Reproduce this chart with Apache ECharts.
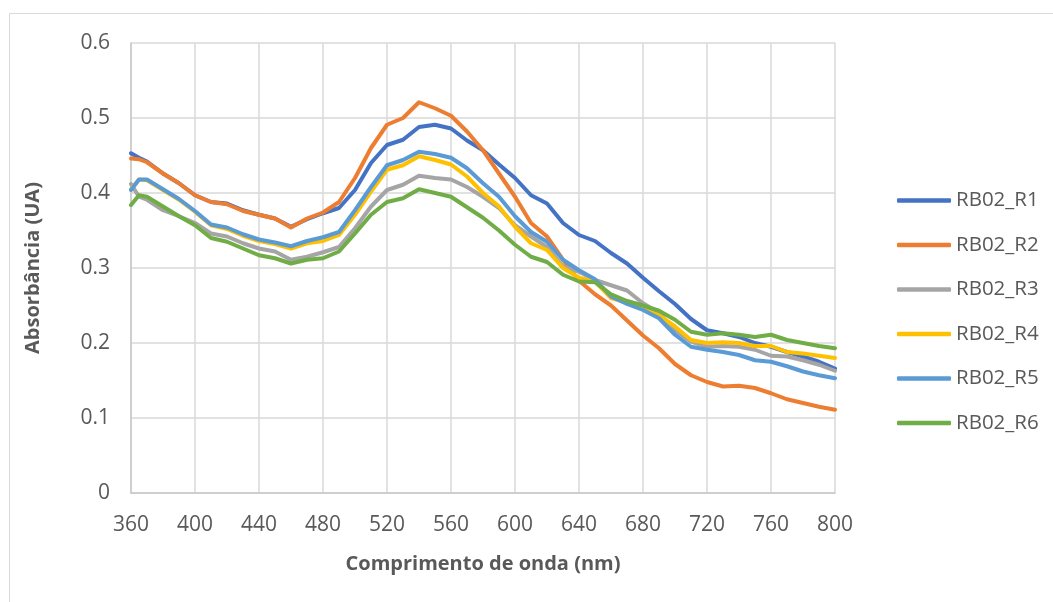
<!DOCTYPE html>
<html>
<head>
<meta charset="utf-8">
<script src="https://cdn.jsdelivr.net/npm/echarts@6/dist/echarts.min.js"></script>
<style>
html,body{margin:0;padding:0;background:#fff;}
#chart{width:1053px;height:602px;}
</style>
</head>
<body>
<div id="chart"></div>
<script>
var wavelengths = [360,365,370,380,390,400,410,420,430,440,450,460,470,480,490,500,510,520,530,540,550,560,570,580,590,600,610,620,630,640,650,660,670,680,690,700,710,720,730,740,750,760,770,780,790,800];
var seriesNames = ['RB02_R1','RB02_R2','RB02_R3','RB02_R4','RB02_R5','RB02_R6'];
var r1 = [.453,.447,.442,.426,.413,.397,.388,.386,.377,.371,.366,.355,.365,.373,.380,.404,.440,.464,.471,.488,.491,.486,.470,.457,.438,.420,.397,.386,.360,.344,.336,.320,.306,.287,.269,.252,.232,.217,.213,.208,.200,.195,.188,.182,.175,.166];
var r2 = [.446,.445,.441,.426,.413,.397,.388,.385,.376,.371,.366,.354,.366,.374,.388,.420,.460,.491,.500,.521,.513,.503,.482,.457,.426,.395,.360,.342,.311,.283,.265,.250,.230,.210,.193,.172,.157,.148,.142,.143,.140,.133,.125,.120,.115,.111];
var r3 = [.412,.395,.391,.377,.369,.360,.346,.342,.333,.326,.322,.311,.315,.321,.328,.353,.382,.404,.411,.423,.420,.418,.408,.395,.380,.357,.342,.328,.302,.295,.284,.277,.270,.253,.240,.217,.202,.195,.196,.195,.191,.183,.182,.177,.171,.163];
var r4 = [.405,.418,.417,.404,.391,.375,.357,.352,.343,.336,.332,.326,.333,.336,.344,.371,.402,.431,.437,.449,.444,.438,.422,.400,.382,.355,.333,.324,.300,.287,.282,.260,.254,.246,.237,.222,.204,.200,.201,.200,.196,.196,.188,.186,.183,.180];
var r5 = [.404,.418,.418,.405,.392,.376,.358,.354,.345,.338,.334,.329,.336,.341,.348,.377,.408,.437,.444,.455,.452,.447,.433,.413,.395,.369,.348,.335,.311,.297,.285,.262,.252,.244,.233,.211,.195,.191,.188,.184,.177,.175,.169,.162,.157,.153];
var r6 = [.384,.397,.395,.382,.369,.357,.340,.335,.326,.317,.313,.306,.311,.313,.322,.346,.371,.388,.393,.405,.400,.395,.381,.367,.350,.331,.315,.308,.291,.282,.281,.265,.256,.250,.243,.231,.215,.211,.213,.211,.208,.211,.204,.200,.196,.193];
var colors = ['#4472C4','#ED7D31','#A5A5A5','#FFC000','#5B9BD5','#70AD47'];
var allValues = [r1,r2,r3,r4,r5,r6];

var FONT = '"Open Sans", "Noto Sans", sans-serif';
var chart = echarts.init(document.getElementById('chart'), null, {renderer:'canvas'});
var series = allValues.map(function(vals, i){
  return {
    name: seriesNames[i],
    type: 'line',
    symbol: 'none',
    showSymbol: false,
    smooth: false,
    data: wavelengths.map(function(w, j){ return [w, vals[j]]; }),
    lineStyle: {color: colors[i], width: 4, cap: 'round', join: 'round'},
    itemStyle: {color: colors[i]}
  };
});
chart.setOption({
  animation: false,
  backgroundColor: '#fff',
  color: colors,
  graphic: [{
    type: 'rect', silent: true,
    shape: {x: 9.5, y: 13.5, width: 1100, height: 700},
    style: {fill: 'none', stroke: '#D9D9D9', lineWidth: 1}
  }],
  grid: {left: 131, right: 218, top: 43, bottom: 109, containLabel: false},
  legend: {
    orient: 'vertical',
    left: 892,
    top: 185,
    icon: 'roundRect',
    itemWidth: 54,
    itemHeight: 4.5,
    itemGap: 23.5,
    textStyle: {fontFamily: FONT, fontSize: 20.5, color: '#595959'},
    data: seriesNames
  },
  xAxis: {
    type: 'value',
    min: 360, max: 800, interval: 40,
    name: 'Comprimento de onda (nm)',
    nameLocation: 'middle',
    nameGap: 61,
    nameTextStyle: {fontFamily: FONT, fontSize: 20, fontWeight: 'bold', color: '#595959'},
    axisLine: {show: true, lineStyle: {color: '#C8C8C8', width: 1.5}},
    axisTick: {show: false},
    axisLabel: {fontFamily: FONT, fontSize: 21, color: '#595959', margin: 22},
    splitLine: {show: true, lineStyle: {color: '#D9D9D9', width: 1.5}}
  },
  yAxis: {
    type: 'value',
    min: 0, max: 0.6, interval: 0.1,
    name: 'Absorbância (UA)',
    nameLocation: 'middle',
    nameGap: 88,
    nameRotate: 90,
    nameTextStyle: {fontFamily: FONT, fontSize: 20, fontWeight: 'bold', color: '#595959'},
    axisLine: {show: true, lineStyle: {color: '#C8C8C8', width: 1.5}},
    axisTick: {show: false},
    axisLabel: {fontFamily: FONT, fontSize: 21, color: '#595959', margin: 21},
    splitLine: {show: true, lineStyle: {color: '#D9D9D9', width: 1.5}}
  },
  series: series
});
</script>
</body>
</html>
